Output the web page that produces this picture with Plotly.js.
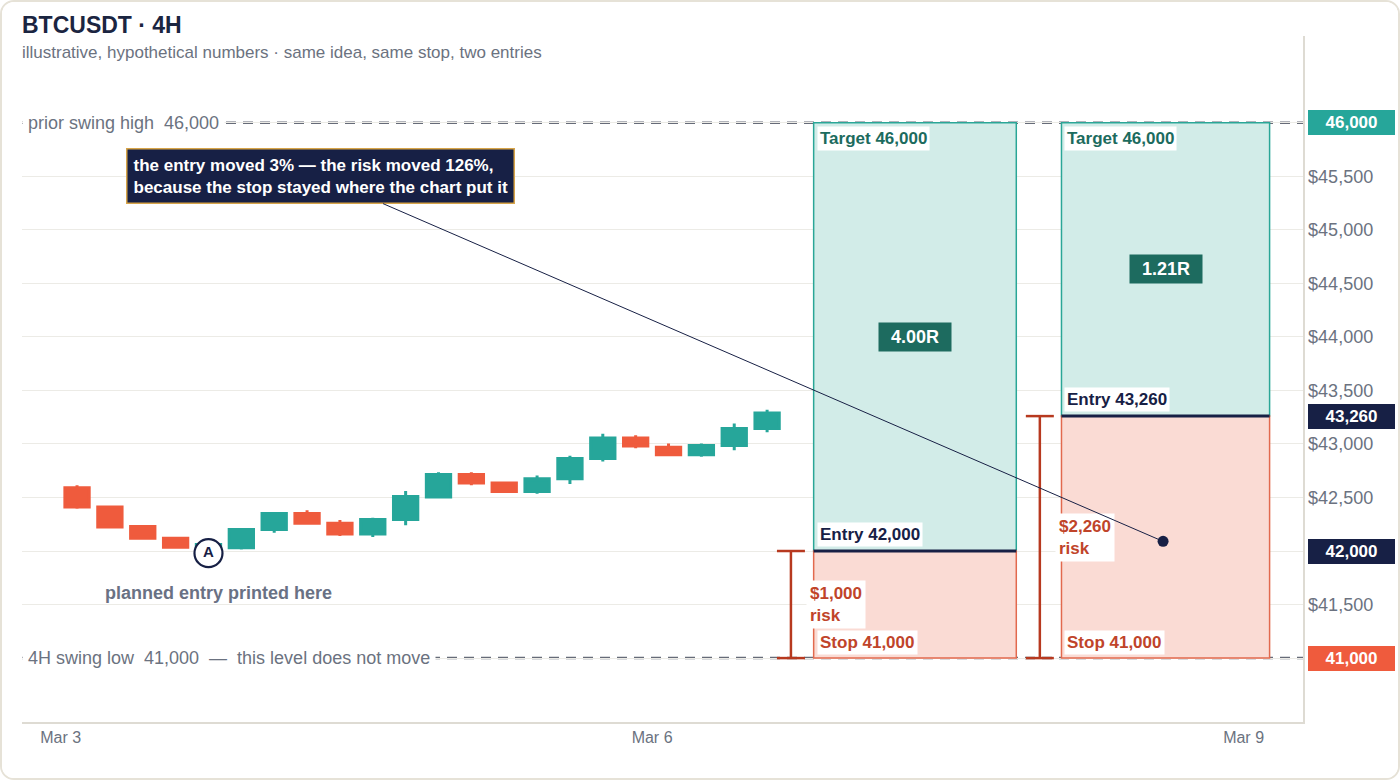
<!DOCTYPE html>
<html>
<head>
<meta charset="utf-8">
<script src="https://cdn.plot.ly/plotly-3.0.1.min.js"></script>
<style>
  html, body { margin: 0; padding: 0; background: #fff; }
  #chart { width: 1400px; height: 780px; box-sizing: border-box; border: 2px solid #e6e2d7; border-radius: 14px; overflow: hidden; }
</style>
</head>
<body>
<div id="chart"></div>
<script>
// 4H candles
var candleTimes = [
  "2024-03-03 02:00", "2024-03-03 06:00", "2024-03-03 10:00", "2024-03-03 14:00", "2024-03-03 18:00", "2024-03-03 22:00",
  "2024-03-04 02:00", "2024-03-04 06:00", "2024-03-04 10:00", "2024-03-04 14:00", "2024-03-04 18:00", "2024-03-04 22:00",
  "2024-03-05 02:00", "2024-03-05 06:00", "2024-03-05 10:00", "2024-03-05 14:00", "2024-03-05 18:00", "2024-03-05 22:00",
  "2024-03-06 02:00", "2024-03-06 06:00", "2024-03-06 10:00", "2024-03-06 14:00"
];
var opens  = [42590, 42410, 42230, 42120, 42030, 42030, 42200, 42350, 42260, 42160, 42295, 42505, 42715, 42635, 42555, 42675, 42865, 43055, 42970, 42900, 42985, 43145];
var highs  = [42615, 42425, 42240, 42130, 42075, 42215, 42360, 42380, 42290, 42310, 42560, 42735, 42735, 42640, 42705, 42890, 43095, 43080, 43005, 43005, 43190, 43320];
var lows   = [42395, 42215, 42110, 42030, 41995, 42015, 42170, 42255, 42140, 42130, 42240, 42495, 42615, 42550, 42535, 42625, 42835, 42960, 42885, 42880, 42940, 43110];
var closes = [42410, 42225, 42120, 42035, 42060, 42200, 42350, 42260, 42160, 42295, 42510, 42715, 42635, 42555, 42675, 42865, 43055, 42980, 42900, 42985, 43145, 43290];

// trade levels
var stopPrice = 41000;
var targetPrice = 46000;
var entries = [42000, 43260];
var boxStart = ["2024-03-06 19:40", "2024-03-08 01:50"];
var boxEnd   = ["2024-03-07 20:20", "2024-03-09 03:10"];
var bracketX = ["2024-03-06 16:54", "2024-03-07 23:12"];

// planned entry marker and callout point
var markA = {x: candleTimes[4], y: 41980};
var calloutX = ["2024-03-08 14:12"];
var calloutY = [42090];

// axis ticks and right-hand price badges
var yTicks = [41000, 41500, 42000, 42500, 43000, 43500, 44000, 44500, 45000, 45500, 46000];
var badgeLevels = [46000, 43260, 42000, 41000];
var badgeColors = ["#26a69a", "#172045", "#172045", "#ef5b3d"];
var xTicks = ["2024-03-03", "2024-03-06", "2024-03-09"];

var GREEN = "#26a69a", RED = "#ef5b3d", NAVY = "#172045", GRAY = "#6b7280";
var STOPTXT = "#c0442a", TEALTXT = "#1c6b5e", BRACKET = "#b7391f";
var FONT = "Liberation Sans, Arial, Helvetica, sans-serif";

function fmt(v) { return v.toLocaleString("en-US"); }
function midDate(a, b) {
  var t = (Date.parse(a.replace(" ", "T") + "Z") + Date.parse(b.replace(" ", "T") + "Z")) / 2;
  return new Date(t).toISOString().slice(0, 19).replace("T", " ");
}

var candles = {
  type: "candlestick",
  x: candleTimes, open: opens, high: highs, low: lows, close: closes,
  increasing: {line: {color: GREEN, width: 3}, fillcolor: GREEN},
  decreasing: {line: {color: RED, width: 3}, fillcolor: RED},
  whiskerwidth: 0,
  hoverinfo: "skip",
  showlegend: false
};

var traces = [candles];

// risk brackets
entries.forEach(function (e, i) {
  traces.push({
    type: "scatter", mode: "lines+markers",
    x: [bracketX[i], bracketX[i]], y: [stopPrice, e],
    line: {color: BRACKET, width: 2.5},
    marker: {symbol: "line-ew-open", size: 20, line: {color: BRACKET, width: 2.5}},
    hoverinfo: "skip", showlegend: false
  });
});

traces.push({
  type: "scatter", mode: "markers+text",
  x: [markA.x], y: [markA.y], text: ["A"], textposition: "middle center",
  textfont: {family: FONT, size: 15, color: NAVY, weight: "bold"},
  marker: {size: 28, color: "#fff", line: {color: NAVY, width: 2.2}},
  hoverinfo: "skip", showlegend: false
});

traces.push({
  type: "scatter", mode: "markers",
  x: calloutX, y: calloutY,
  marker: {size: 11, color: NAVY},
  hoverinfo: "skip", showlegend: false
});

var shapes = [];
entries.forEach(function (e, i) {
  shapes.push({type: "rect", xref: "x", yref: "y", x0: boxStart[i], x1: boxEnd[i], y0: e, y1: targetPrice,
    fillcolor: "#d2ece8", line: {color: "#2aa697", width: 1.5}, layer: "between"});
  shapes.push({type: "rect", xref: "x", yref: "y", x0: boxStart[i], x1: boxEnd[i], y0: stopPrice, y1: e,
    fillcolor: "#fadbd4", line: {color: "#e2694e", width: 1.5}, layer: "between"});
  shapes.push({type: "line", xref: "x", yref: "y", x0: boxStart[i], x1: boxEnd[i], y0: e, y1: e,
    line: {color: NAVY, width: 3}, layer: "between"});
});
[targetPrice, stopPrice].forEach(function (lv) {
  shapes.push({type: "line", xref: "paper", yref: "y", x0: 0, x1: 1, y0: lv, y1: lv,
    line: {color: "#666b78", width: 2.5, dash: "10px,7px"}, layer: "between"});
});

var ann = [];
ann.push({xref: "paper", yref: "paper", x: 0, y: 1 - 17 / 686, xanchor: "left", yanchor: "middle", xshift: -2,
  text: "illustrative, hypothetical numbers · same idea, same stop, two entries",
  showarrow: false, font: {family: FONT, size: 17, color: GRAY}});
ann.push({xref: "paper", yref: "y", x: 0, y: targetPrice, xanchor: "left", showarrow: false,
  text: "prior swing high\u00a0\u00a0" + fmt(targetPrice), bgcolor: "#fff", borderpad: 5,
  font: {family: FONT, size: 18, color: GRAY}});
ann.push({xref: "paper", yref: "y", x: 0, y: stopPrice, xanchor: "left", showarrow: false,
  text: "4H swing low\u00a0\u00a0" + fmt(stopPrice) + "\u00a0\u00a0—\u00a0\u00a0this level does not move", bgcolor: "#fff", borderpad: 5,
  font: {family: FONT, size: 18, color: GRAY}});
ann.push({xref: "x", yref: "y", x: markA.x, y: 41605, xshift: 10, showarrow: false,
  text: "<b>planned entry printed here</b>", font: {family: FONT, size: 18, color: "#697184"}});

entries.forEach(function (e, i) {
  var risk = e - stopPrice;
  var r = (targetPrice - e) / risk;
  ann.push({xref: "x", yref: "y", x: boxStart[i], y: targetPrice, xanchor: "left", yanchor: "top", xshift: 3, yshift: -3,
    showarrow: false, text: "<b>Target " + fmt(targetPrice) + "</b>", bgcolor: "#fff", borderpad: 2,
    font: {family: FONT, size: 17, color: TEALTXT}});
  ann.push({xref: "x", yref: "y", x: boxStart[i], y: e, xanchor: "left", yanchor: "bottom", xshift: 3, yshift: 4,
    showarrow: false, text: "<b>Entry " + fmt(e) + "</b>", bgcolor: "#fff", borderpad: 2,
    font: {family: FONT, size: 17, color: NAVY}});
  ann.push({xref: "x", yref: "y", x: boxStart[i], y: stopPrice, xanchor: "left", yanchor: "bottom", xshift: 3, yshift: 3,
    showarrow: false, text: "<b>Stop " + fmt(stopPrice) + "</b>", bgcolor: "#fff", borderpad: 2,
    font: {family: FONT, size: 17, color: STOPTXT}});
  ann.push({xref: "x", yref: "y", x: bracketX[i], y: (stopPrice + e) / 2, xanchor: "left", xshift: 15,
    showarrow: false, align: "left", text: "<b>$" + fmt(risk) + "<br>risk</b>", bgcolor: "#fff", borderpad: 3,
    font: {family: FONT, size: 17, color: STOPTXT}});
  ann.push({xref: "x", yref: "y", x: midDate(boxStart[i], boxEnd[i]), y: (e + targetPrice) / 2,
    showarrow: false, text: "<b>" + r.toFixed(2) + "R</b>", bgcolor: "#1d6b5f", borderpad: 4, width: 64,
    font: {family: FONT, size: 18, color: "#fff"}});
});

badgeLevels.forEach(function (lv, i) {
  ann.push({xref: "paper", yref: "y", x: 1, y: lv, xanchor: "left", xshift: 5, showarrow: false,
    text: "<b>" + fmt(lv) + "</b>", bgcolor: badgeColors[i], bordercolor: badgeColors[i], borderwidth: 1,
    borderpad: 2, width: 81, font: {family: FONT, size: 17, color: "#fff"}});
});

ann.push({xref: "x", yref: "y", x: calloutX[0], y: calloutY[0],
  text: "<b>the entry moved 3% — the risk moved 126%,<br>because the stop stayed where the chart put it</b>",
  showarrow: true, arrowhead: 0, arrowwidth: 1, arrowcolor: NAVY, ax: -843, ay: -365, standoff: 0,
  align: "left", bgcolor: NAVY, bordercolor: "#d8a54a", borderwidth: 1.5, borderpad: 6,
  font: {family: FONT, size: 17, color: "#fff"}});

var layout = {
  width: 1396, height: 776,
  margin: {l: 20, r: 95, t: 34, b: 56},
  paper_bgcolor: "#fff", plot_bgcolor: "#fff",
  font: {family: FONT, color: GRAY},
  title: {text: "<b>BTCUSDT · 4H</b>", font: {family: FONT, size: 23, color: "#1b2541"},
    xref: "paper", x: 0, xanchor: "left", yref: "container", y: 1 - 23 / 776, yanchor: "middle"},
  showlegend: false,
  boxgap: 0.26,
  boxgroupgap: 0,
  xaxis: {
    type: "date",
    range: ["2024-03-02 19:18", "2024-03-09 07:14"],
    tickvals: xTicks, tickformat: "%b %-d",
    showgrid: false, zeroline: false,
    showline: true, linecolor: "#dedbd3", linewidth: 1.5,
    ticks: "", tickfont: {size: 16, color: GRAY},
    rangeslider: {visible: false}, fixedrange: true
  },
  yaxis: {
    side: "right",
    range: [40403, 46810],
    tickvals: yTicks,
    ticktext: yTicks.map(function (v) { return badgeLevels.indexOf(v) >= 0 ? "" : "$" + fmt(v); }),
    showgrid: true, gridcolor: "#ecebe6", gridwidth: 1, zeroline: false,
    showline: true, linecolor: "#dedbd3", linewidth: 1.5,
    ticks: "", tickfont: {size: 18, color: GRAY}, fixedrange: true
  },
  shapes: shapes,
  annotations: ann
};

Plotly.newPlot("chart", traces, layout, {displayModeBar: false, staticPlot: true});
</script>
</body>
</html>
